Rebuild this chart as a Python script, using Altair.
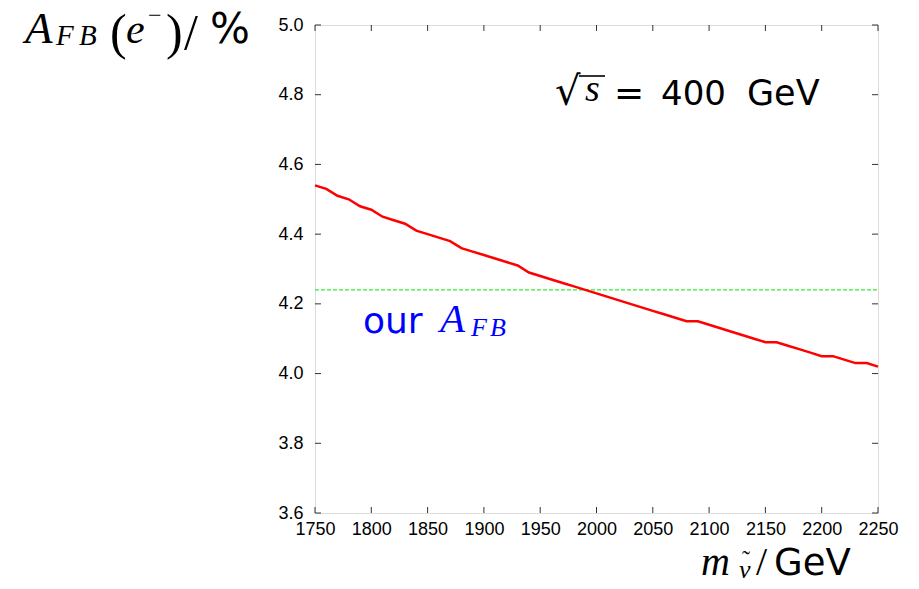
import altair as alt
import pandas as pd

# ---- data ----
mass = list(range(1750, 2251, 10))
afb = [4.54, 4.53, 4.51, 4.50, 4.48, 4.47, 4.45, 4.44, 4.43, 4.41,
       4.40, 4.39, 4.38, 4.36, 4.35, 4.34, 4.33, 4.32, 4.31, 4.29,
       4.28, 4.27, 4.26, 4.25, 4.24, 4.23, 4.22, 4.21, 4.20, 4.19,
       4.18, 4.17, 4.16, 4.15, 4.15, 4.14, 4.13, 4.12, 4.11, 4.10,
       4.09, 4.09, 4.08, 4.07, 4.06, 4.05, 4.05, 4.04, 4.03, 4.03,
       4.02]
our_afb = 4.24
x_ticks = list(range(1750, 2251, 50))
y_ticks = [3.6, 3.8, 4.0, 4.2, 4.4, 4.6, 4.8, 5.0]

W, H = 563, 488
TL = 6  # inward tick length

df = pd.DataFrame({"m": mass, "a": afb})
dx = pd.DataFrame({"t": x_ticks})
dy = pd.DataFrame({"t": y_ticks})
dh = pd.DataFrame({"a": [our_afb]})
one = pd.DataFrame({"z": [0]})

xs = alt.Scale(domain=[1750, 2250], nice=False, zero=False)
ys = alt.Scale(domain=[3.6, 5.0], nice=False, zero=False)

LAB = "Liberation Sans"
SERIF = "Liberation Serif"
SANS = "DejaVu Sans"

xaxis = alt.Axis(values=x_ticks, format="d", title=None, grid=False, domain=False,
                 tickSize=0, labelPadding=7, labelFont=LAB, labelFontSize=18,
                 labelColor="black", labelOverlap=False, labelFlush=False)
yaxis = alt.Axis(values=y_ticks, format=".1f", title=None, grid=False, domain=False,
                 tickSize=0, labelPadding=12, labelFont=LAB, labelFontSize=18,
                 labelColor="black", labelOverlap=False, labelFlush=False)

line = alt.Chart(df).mark_line(color="#ff0000", strokeWidth=2.5).encode(
    x=alt.X("m:Q", scale=xs, axis=xaxis),
    y=alt.Y("a:Q", scale=ys, axis=yaxis),
)

hline = alt.Chart(dh).mark_rule(color="#33ee33", strokeWidth=1.2, strokeDash=[4, 2]).encode(
    y=alt.Y("a:Q", scale=ys), x=alt.value(0), x2=alt.value(W)
)

tick_color = "#333333"
bt = alt.Chart(dx).mark_rule(color=tick_color, strokeWidth=1).encode(
    x=alt.X("t:Q", scale=xs), y=alt.value(H), y2=alt.value(H - TL))
tt = alt.Chart(dx).mark_rule(color=tick_color, strokeWidth=1).encode(
    x=alt.X("t:Q", scale=xs), y=alt.value(0), y2=alt.value(TL))
lt = alt.Chart(dy).mark_rule(color=tick_color, strokeWidth=1).encode(
    y=alt.Y("t:Q", scale=ys), x=alt.value(0), x2=alt.value(TL))
rt = alt.Chart(dy).mark_rule(color=tick_color, strokeWidth=1).encode(
    y=alt.Y("t:Q", scale=ys), x=alt.value(W), x2=alt.value(W - TL))


def txt(s, x, y, size, font, style="normal", color="black"):
    return alt.Chart(one).mark_text(
        text=s, align="left", baseline="alphabetic", font=font, fontSize=size,
        fontStyle=style, color=color
    ).encode(x=alt.value(x), y=alt.value(y))


texts = [
    # y title  A_FB(e^-)/%
    txt("A", -290, 18, 45, SERIF, "italic"),
    txt("F", -259, 20, 29, SERIF, "italic"),
    txt("B", -236, 20, 29, SERIF, "italic"),
    txt("(", -205, 24, 50, SERIF),
    txt("e", -189, 18, 42, SERIF, "italic"),
    txt("\u2212", -167, -2, 24, SERIF),
    txt(")", -149, 24, 50, SERIF),
    txt("/", -131, 24, 50, SERIF),
    txt("%", -105, 18, 42, SANS),
    # sqrt(s) = 400 GeV
    txt("\u221a", 240, 80, 40, SANS),
    txt("s", 270, 76, 38, SERIF, "italic"),
    txt("=", 299, 80, 36, SANS),
    txt("400", 346, 80, 34, SANS),
    txt("GeV", 432, 80, 35, SANS),
    # our A_FB
    txt("our", 48, 308, 36, SANS, color="#0000ff"),
    txt("A", 125, 307, 41, SERIF, "italic", "#0000ff"),
    txt("F", 156, 311, 26, SERIF, "italic", "#0000ff"),
    txt("B", 175, 311, 26, SERIF, "italic", "#0000ff"),
    # x title m_nu~/GeV
    txt("m", 386, 550, 40, SERIF, "italic"),
    txt("\u03bd", 424, 553, 26, SERIF, "italic"),
    txt("\u02dc", 427, 542, 24, SERIF),
    txt("/", 441, 550, 40, SERIF),
    txt("GeV", 459, 550, 37, SANS),
]

overline = alt.Chart(one).mark_rule(color="black", strokeWidth=1.6).encode(
    x=alt.value(264), x2=alt.value(290), y=alt.value(51))

chart = alt.layer(hline, line, bt, tt, lt, rt, overline, *texts).properties(
    width=W, height=H,
    autosize=alt.AutoSizeParams(type="none"),
    padding={"left": 307, "top": 17, "right": 30, "bottom": 65},
).configure_view(stroke="#111111", strokeWidth=1.2).configure(background="white")

chart.save("out.html", embed_options={"renderer": "svg", "actions": False})
